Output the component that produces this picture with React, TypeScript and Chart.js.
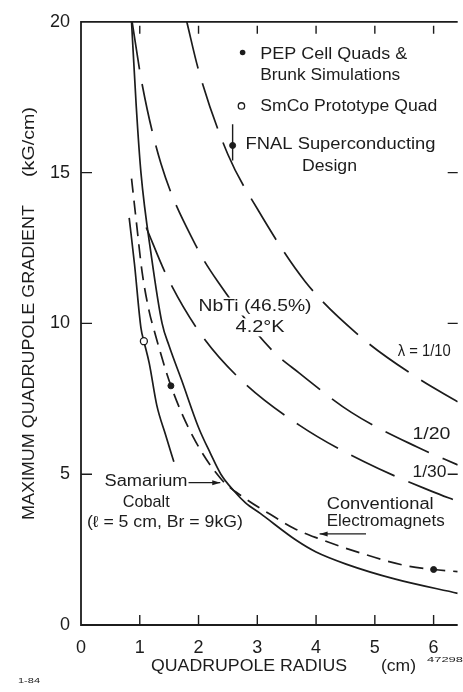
import React, { useEffect, useRef } from "react";
import { Chart, registerables } from "chart.js";

Chart.register(...registerables);

// ---------- data ----------
const X_MIN = 0;
const X_MAX = 6.41;
const Y_MIN = 0;
const Y_MAX = 20;
const xTickValues = [0, 1, 2, 3, 4, 5, 6];
const yTickValues = [0, 5, 10, 15, 20];

// Samarium-cobalt short solid curve (l = 5 cm, Br = 9 kG)
const smcoShortR = [0.82, 0.91, 1.02, 1.07, 1.16, 1.29, 1.44, 1.58];
const smcoShortG = [13.5, 11.97, 9.85, 9.41, 8.69, 7.28, 6.3, 5.41];

// Long solid curve
const solidR = [0.86, 0.94, 1.02, 1.2, 1.38, 1.5, 1.71, 2.0, 2.2, 2.38, 2.6, 2.8, 3.05, 3.67, 4.0, 4.51, 5.35, 6.41];
const solidG = [20, 17.2, 15, 12.2, 10.0, 9.25, 8.13, 6.55, 5.7, 5.0, 4.45, 4.05, 3.7, 2.8, 2.42, 2.02, 1.52, 1.05];

// Conventional electromagnets (short dashes)
const convR = [0.86, 0.94, 1.04, 1.16, 1.24, 1.53, 1.91, 2.38, 2.79, 3.22, 3.62, 4.01, 4.8, 5.5, 6.0, 6.41];
const convG = [14.8, 13.4, 11.7, 10.4, 9.8, 7.93, 6.23, 4.85, 4.2, 3.67, 3.21, 2.89, 2.36, 1.98, 1.84, 1.77];

// NbTi (46.5%) 4.2 K superconducting curves, lambda = 1/10, 1/20, 1/30
const nbti10R = [1.8, 2.0, 2.5, 3.0, 3.81, 4.73, 5.72, 6.41];
const nbti10G = [20, 18.4, 15.6, 13.8, 11.4, 9.6, 8.2, 7.4];
const nbti20R = [0.87, 1.04, 1.36, 1.96, 2.33, 3.25, 3.71, 4.6, 5.72, 6.41];
const nbti20G = [20, 17.93, 15.3, 12.56, 11.38, 9.11, 8.36, 7.05, 5.9, 5.31];
const nbti30R = [1.11, 1.46, 2.03, 2.72, 3.72, 4.82, 5.97, 6.41];
const nbti30G = [13.18, 11.57, 9.67, 8.13, 6.62, 5.41, 4.43, 4.1];

// Measured / design points
const pepR = [1.53, 6.0];
const pepG = [7.93, 1.84];
const smcoProtoR = [1.07];
const smcoProtoG = [9.41];
const fnalR = [2.58];
const fnalG = [15.9];
const fnalErrLow = [15.4];
const fnalErrHigh = [16.6];

// ---------- style ----------
const INK = "#1c1c1c";
const FAMILY = '"Liberation Sans", Arial, sans-serif';

type Anno = { text: string; x: number; y: number; w: number; size?: number; bg?: boolean };
const annotations: Anno[] = [
  { text: "PEP Cell Quads &", x: 3.05, y: 18.92, w: 147 },
  { text: "Brunk Simulations", x: 3.05, y: 18.23, w: 140 },
  { text: "SmCo Prototype Quad", x: 3.05, y: 17.18, w: 177 },
  { text: "FNAL Superconducting", x: 2.8, y: 15.93, w: 190 },
  { text: "Design", x: 3.76, y: 15.21, w: 55 },
  { text: "NbTi (46.5%)", x: 2.0, y: 10.56, w: 113, bg: true },
  { text: "4.2°K", x: 2.63, y: 9.87, w: 49, bg: true },
  { text: "λ = 1/10", x: 5.39, y: 9.08, w: 53 },
  { text: "1/20", x: 5.64, y: 6.3, w: 38 },
  { text: "1/30", x: 5.64, y: 5.05, w: 34 },
  { text: "Samarium", x: 0.4, y: 4.75, w: 83 },
  { text: "Cobalt", x: 0.71, y: 4.07, w: 47, size: 17 },
  { text: "(ℓ = 5 cm, Br = 9kG)", x: 0.1, y: 3.41, w: 156 },
  { text: "Conventional", x: 4.18, y: 4.0, w: 107 },
  { text: "Electromagnets", x: 4.18, y: 3.44, w: 118 },
];
const arrows = [
  { x1: 1.83, x2: 2.37, y: 4.72 },
  { x1: 4.85, x2: 4.06, y: 3.02 },
];
const legendMarks = [
  { x: 2.75, y: 18.98, filled: true },
  { x: 2.73, y: 17.21, filled: false },
];

function fitText(ctx: CanvasRenderingContext2D, text: string, x: number, y: number, width: number, size: number) {
  ctx.font = `${size}px ${FAMILY}`;
  const w = ctx.measureText(text).width;
  ctx.save();
  ctx.translate(x, y);
  ctx.scale(width / w, 1);
  ctx.textAlign = "left";
  ctx.textBaseline = "middle";
  ctx.fillText(text, 0, 0);
  ctx.restore();
}

const decor = {
  id: "decor",
  afterDatasetsDraw(chart: any) {
    const { ctx, chartArea, scales } = chart;
    const { left, right, top, bottom } = chartArea;
    const xs = scales.x;
    const ys = scales.y;
    ctx.save();
    ctx.strokeStyle = INK;
    ctx.fillStyle = INK;
    ctx.lineWidth = 1.8;
    // frame (left, bottom, top)
    ctx.beginPath();
    ctx.moveTo(right, top);
    ctx.lineTo(left, top);
    ctx.lineTo(left, bottom);
    ctx.lineTo(right, bottom);
    ctx.stroke();
    // inward ticks
    ctx.lineWidth = 1.4;
    ctx.beginPath();
    for (const v of yTickValues) {
      if (v === Y_MIN || v === Y_MAX) continue;
      const py = ys.getPixelForValue(v);
      ctx.moveTo(left, py);
      ctx.lineTo(left + 11, py);
      ctx.moveTo(right, py);
      ctx.lineTo(right - 10, py);
    }
    for (const v of xTickValues) {
      if (v === X_MIN) continue;
      const px = xs.getPixelForValue(v);
      ctx.moveTo(px, bottom);
      ctx.lineTo(px, bottom - 10);
      ctx.moveTo(px, top + 4);
      ctx.lineTo(px, top + 12);
    }
    ctx.stroke();

    // annotation texts
    for (const a of annotations) {
      const px = xs.getPixelForValue(a.x);
      const py = ys.getPixelForValue(a.y);
      if (a.bg) {
        ctx.fillStyle = "#ffffff";
        ctx.fillRect(px - 3, py - 9, a.w + 6, 18);
        ctx.fillStyle = INK;
      }
      fitText(ctx, a.text, px, py, a.w, a.size || 16);
    }
    // arrows
    ctx.lineWidth = 1.3;
    for (const ar of arrows) {
      const x1 = xs.getPixelForValue(ar.x1);
      const x2 = xs.getPixelForValue(ar.x2);
      const py = ys.getPixelForValue(ar.y);
      const dir = Math.sign(x2 - x1);
      ctx.beginPath();
      ctx.moveTo(x1, py);
      ctx.lineTo(x2, py);
      ctx.stroke();
      ctx.beginPath();
      ctx.moveTo(x2, py);
      ctx.lineTo(x2 - dir * 8, py - 2.5);
      ctx.lineTo(x2 - dir * 8, py + 2.5);
      ctx.closePath();
      ctx.fill();
    }
    // legend marks
    for (const m of legendMarks) {
      const px = xs.getPixelForValue(m.x);
      const py = ys.getPixelForValue(m.y);
      ctx.beginPath();
      ctx.arc(px, py, m.filled ? 2.8 : 3.2, 0, Math.PI * 2);
      if (m.filled) ctx.fill();
      else {
        ctx.lineWidth = 1.3;
        ctx.stroke();
      }
    }
    ctx.restore();
  },
  afterDraw(chart: any) {
    const { ctx } = chart;
    ctx.save();
    ctx.fillStyle = INK;
    // x-axis title
    fitText(ctx, "QUADRUPOLE RADIUS", 151, 667, 196, 16);
    fitText(ctx, "(cm)", 381, 667, 35, 16);
    // small figure codes
    fitText(ctx, "1-84", 18, 681, 22, 7);
    fitText(ctx, "47298", 427, 660, 36, 7);
    // y-axis title (rotated)
    ctx.save();
    ctx.translate(30, 0);
    ctx.rotate(-Math.PI / 2);
    fitText(ctx, "MAXIMUM QUADRUPOLE GRADIENT", -520, 0, 315, 16);
    fitText(ctx, "(kG/cm)", -177, 0, 70, 16);
    ctx.restore();
    ctx.restore();
  },
};

function line(rs: number[], gs: number[], dash: number[] | undefined) {
  return {
    data: rs.map((r, i) => ({ x: r, y: gs[i] })),
    showLine: true,
    borderColor: INK,
    borderWidth: 1.7,
    borderDash: dash || [],
    pointRadius: 0,
    cubicInterpolationMode: "monotone" as const,
    fill: false,
    order: 2,
  };
}

export default function App() {
  const ref = useRef<HTMLCanvasElement | null>(null);
  useEffect(() => {
    if (!ref.current) return;
    const longDash = [48, 15];
    const chart = new Chart(ref.current, {
      type: "scatter",
      data: {
        datasets: [
          line(smcoShortR, smcoShortG, undefined),
          line(solidR, solidG, undefined),
          line(convR, convG, [14, 8]),
          line(nbti10R, nbti10G, longDash),
          line(nbti20R, nbti20G, longDash),
          line(nbti30R, nbti30G, longDash),
          {
            data: [
              { x: fnalR[0], y: fnalErrLow[0] },
              { x: fnalR[0], y: fnalErrHigh[0] },
            ],
            showLine: true,
            borderColor: INK,
            borderWidth: 1.4,
            pointRadius: 0,
            tension: 0,
            order: 1,
          },
          {
            data: pepR.map((r, i) => ({ x: r, y: pepG[i] })),
            showLine: false,
            pointRadius: 3,
            pointBackgroundColor: INK,
            pointBorderColor: INK,
            order: 0,
          },
          {
            data: fnalR.map((r, i) => ({ x: r, y: fnalG[i] })),
            showLine: false,
            pointRadius: 3,
            pointBackgroundColor: INK,
            pointBorderColor: INK,
            order: 0,
          },
          {
            data: smcoProtoR.map((r, i) => ({ x: r, y: smcoProtoG[i] })),
            showLine: false,
            pointRadius: 3.5,
            pointBackgroundColor: "#ffffff",
            pointBorderColor: INK,
            pointBorderWidth: 1.3,
            order: 0,
          },
        ] as any,
      },
      options: {
        responsive: false,
        animation: false,
        devicePixelRatio: 1,
        layout: { padding: { top: 15, right: 0, left: 0, bottom: 0 } },
        plugins: { legend: { display: false }, tooltip: { enabled: false } },
        scales: {
          x: {
            type: "linear",
            min: X_MIN,
            max: X_MAX,
            afterBuildTicks: (s: any) => {
              s.ticks = xTickValues.map((v) => ({ value: v }));
            },
            afterFit: (s: any) => {
              s.height = 67;
            },
            grid: { display: false, drawTicks: false },
            border: { display: false },
            ticks: {
              autoSkip: false,
              maxRotation: 0,
              padding: 12,
              color: INK,
              font: { size: 18, family: FAMILY },
              callback: (v: any) => String(v),
            },
          },
          y: {
            type: "linear",
            min: Y_MIN,
            max: Y_MAX,
            afterBuildTicks: (s: any) => {
              s.ticks = yTickValues.map((v) => ({ value: v }));
            },
            afterFit: (s: any) => {
              s.width = 81;
            },
            grid: { display: false, drawTicks: false },
            border: { display: false },
            ticks: {
              autoSkip: false,
              padding: 11,
              color: INK,
              font: { size: 18, family: FAMILY },
              callback: (v: any) => String(v),
            },
          },
        },
      } as any,
      plugins: [decor],
    });
    return () => chart.destroy();
  }, []);

  return (
    <div style={{ position: "fixed", left: 0, top: 0, width: 463, height: 692, background: "#fff" }}>
      <canvas ref={ref} width={463} height={692} style={{ display: "block" }} />
    </div>
  );
}
